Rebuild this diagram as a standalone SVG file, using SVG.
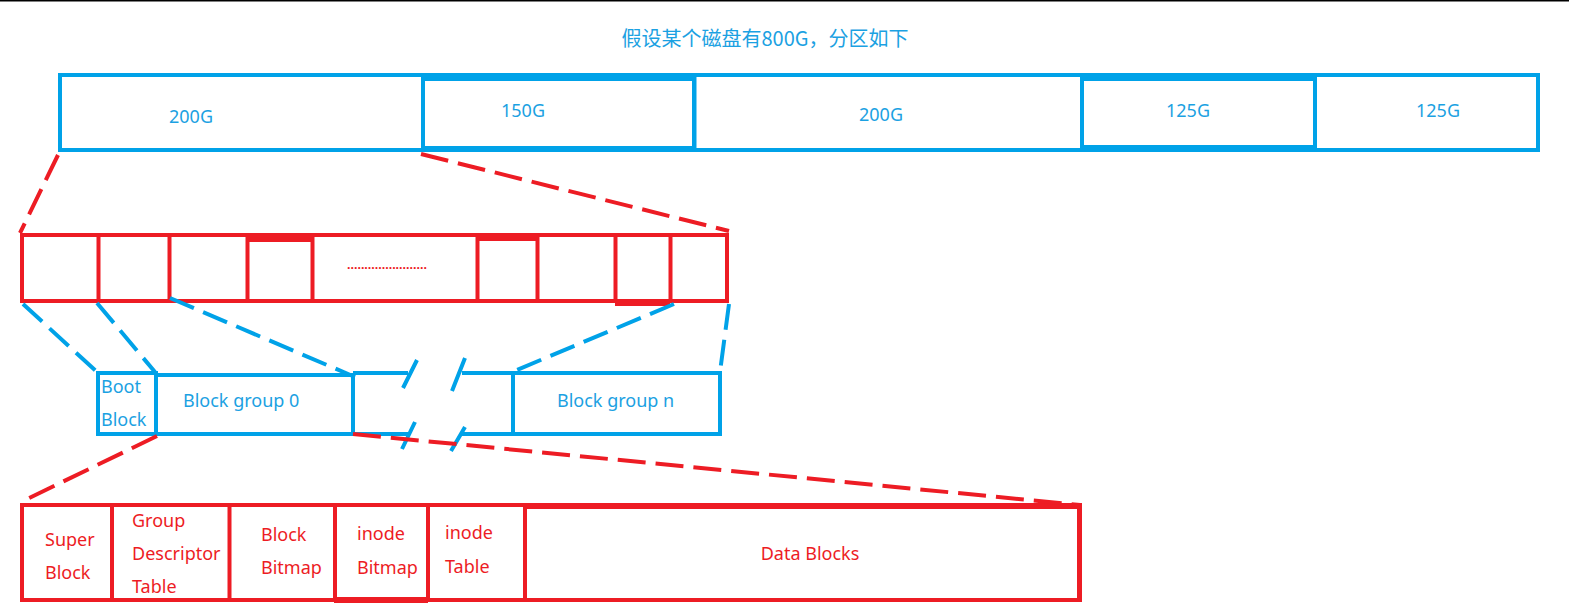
<svg xmlns="http://www.w3.org/2000/svg" width="1569" height="610" viewBox="0 0 1569 610">
<style>
.b{fill:none;stroke:#00A2E8;stroke-width:4}
.r{fill:none;stroke:#ED1C24;stroke-width:4}
.bt{fill:#1BA1E2;font-family:"Noto Sans","Noto Sans CJK SC",sans-serif;font-size:18px}
.rt{fill:#ED1C24;font-family:"Noto Sans","Noto Sans CJK SC",sans-serif;font-size:18px}
.rd{fill:none;stroke:#ED1C24;stroke-width:4;stroke-dasharray:28 10}
.bd{fill:none;stroke:#00A2E8;stroke-width:4;stroke-dasharray:26 10}
</style>
<rect width="1569" height="610" fill="#fff"/>
<line x1="0" y1="0.75" x2="1569" y2="0.75" stroke="#000" stroke-width="1.5"/>
<text class="bt" x="765" y="46" text-anchor="middle" style="font-family:'Noto Sans CJK SC','Noto Sans',sans-serif;font-size:20px">假设某个磁盘有800G，分区如下</text>

<g id="disk">
<rect class="b" x="60" y="75" width="1478" height="75"/>
<rect class="b" x="423" y="79" width="271" height="69"/>
<line class="b" x1="694.5" y1="75" x2="694.5" y2="150"/>
<rect class="b" x="1082" y="79" width="233" height="68"/>
<text class="bt" x="191" y="123" text-anchor="middle">200G</text>
<text class="bt" x="523" y="117" text-anchor="middle">150G</text>
<text class="bt" x="881" y="121" text-anchor="middle">200G</text>
<text class="bt" x="1188" y="117" text-anchor="middle">125G</text>
<text class="bt" x="1438" y="117" text-anchor="middle">125G</text>
</g>

<g id="groups-strip">
<rect class="r" x="22" y="235" width="705" height="66"/>
<path class="r" stroke-width="3" d="M98.5,235V301M169.5,235V301M247.5,235V301M312.5,235V301M477.5,235V301M537.5,235V301M615.5,235V301M670.5,235V301"/>
<rect x="247" y="236" width="65" height="6" fill="#ED1C24"/>
<rect x="477" y="236" width="60" height="5" fill="#ED1C24"/>
<rect x="615" y="299" width="55" height="7" fill="#ED1C24"/>
<text x="347" y="269" fill="#ED1C24" style="font-family:'Liberation Sans',sans-serif;font-size:12.5px;font-weight:bold">.......................</text>
</g>

<g id="boot-block">
<rect class="b" x="98" y="373" width="58" height="61"/>
<text class="bt" x="101" y="393">Boot</text>
<text class="bt" x="101" y="426">Block</text>
</g>
<g id="block-group-0">
<rect class="b" x="156" y="375" width="197" height="59"/>
<text class="bt" x="183" y="407">Block group 0</text>
</g>
<g id="block-group-n">
<rect class="b" x="513" y="373" width="207" height="61"/>
<text class="bt" x="557" y="407">Block group n</text>
</g>
<g id="gap">
<path class="b" d="M353,373H408M353,434H408M462,373H513M462,434H513"/>
<path class="b" stroke-width="3" d="M417,360L403,388M415,422L402,449M465,358L452,391M465,427L451,451"/>
</g>

<g id="group-table">
<rect class="r" x="22" y="505" width="1058" height="95" stroke-width="5"/>
<path class="r" d="M112,505V600M229.5,505V600M335,505V600M428,505V600"/>
<rect x="334" y="597" width="94" height="6" fill="#ED1C24"/>
<rect class="r" x="525" y="507" width="554" height="93" stroke-width="5"/>
<text class="rt" x="45" y="546">Super</text>
<text class="rt" x="45" y="579">Block</text>
<text class="rt" x="132" y="527">Group</text>
<text class="rt" x="132" y="560">Descriptor</text>
<text class="rt" x="132" y="593">Table</text>
<text class="rt" x="261" y="541">Block</text>
<text class="rt" x="261" y="574">Bitmap</text>
<text class="rt" x="357" y="540">inode</text>
<text class="rt" x="357" y="574">Bitmap</text>
<text class="rt" x="445" y="539">inode</text>
<text class="rt" x="445" y="573">Table</text>
<text class="rt" x="810" y="560" text-anchor="middle">Data Blocks</text>
</g>

<g id="connectors">
<line class="rd" x1="58" y1="155" x2="20" y2="233"/>
<line class="rd" x1="421" y1="154" x2="729" y2="231"/>
<line class="rd" x1="157" y1="436" x2="21" y2="502"/>
<line class="rd" x1="353" y1="434" x2="1080" y2="505"/>
<line class="bd" x1="23" y1="304" x2="97" y2="372"/>
<line class="bd" x1="97" y1="303" x2="155" y2="372"/>
<line class="bd" x1="170" y1="298" x2="355" y2="377"/>
<line class="bd" x1="674" y1="304" x2="512" y2="372"/>
<line class="bd" x1="729" y1="304" x2="720" y2="372"/>
</g>
</svg>
